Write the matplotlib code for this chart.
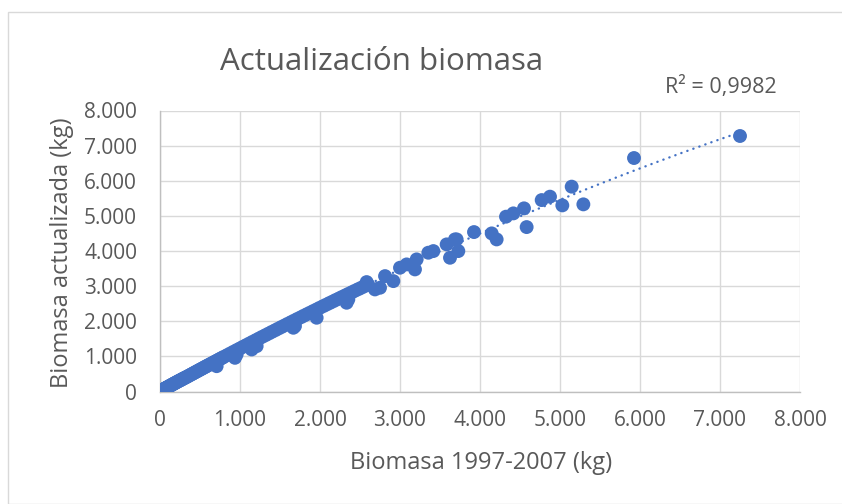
import numpy as np
import matplotlib
matplotlib.use("Agg")
import matplotlib.pyplot as plt
from matplotlib.ticker import FuncFormatter, MultipleLocator
from matplotlib.patches import Rectangle

title = "Actualización biomasa"
xlabel = "Biomasa 1997-2007 (kg)"
ylabel = "Biomasa actualizada (kg)"
r2_label = "R² = 0,9982"

# dense band of points near the origin
band_x = [5, 15, 25, 40, 55, 70, 85, 100, 120, 140, 160, 180, 200, 225, 250, 275, 300,
          330, 360, 390, 420, 450, 480, 510, 540, 570, 600, 640, 680, 720, 760, 800,
          840, 880, 920, 960, 1000, 1040, 1080, 1120, 1160, 1200, 1240, 1280, 1320,
          1360, 1400, 1440, 1480, 1520, 1560, 1600, 1640, 1680, 1720, 1760, 1800,
          1840, 1880, 1920, 1960, 2000, 2040, 2080, 2120, 2160, 2200, 2240, 2280,
          2320, 2360, 2400, 2440, 2480, 2520, 2560, 2600]
band_y = [10, 22, 35, 55, 75, 95, 113, 132, 158, 184, 208, 233, 258, 290, 320, 350, 380,
          413, 450, 487, 524, 561, 598, 635, 671, 708, 745, 794, 842, 891, 939, 988,
          1036, 1084, 1132, 1180, 1227, 1275, 1322, 1370, 1417, 1464, 1512, 1559, 1605,
          1652, 1699, 1745, 1792, 1838, 1884, 1930, 1976, 2022, 2068, 2113, 2159,
          2204, 2249, 2294, 2340, 2385, 2430, 2474, 2519, 2563, 2608, 2652, 2696,
          2740, 2784, 2828, 2872, 2915, 2958, 3002, 3045]

# extra points in the densest low range
low_x = [10, 30, 50, 65, 80, 95, 110, 130, 150, 170, 190, 215, 240, 265, 290, 315,
         345, 375, 405, 435, 465, 495, 525, 555, 585, 620, 660, 700, 740, 780]
low_y = [14, 40, 66, 86, 104, 122, 142, 166, 192, 217, 242, 272, 302, 330, 362, 392,
         428, 466, 502, 540, 576, 614, 650, 688, 724, 768, 816, 866, 914, 962]

# scattered points below the band and sparse upper range
sparse_x = [708, 937, 958, 1146, 1208, 1667, 1687, 1958, 2333, 2354, 2583, 2687,
            2750, 2813, 2917, 3000, 3083, 3187, 3208, 3354, 3417, 3583, 3625, 3687,
            3708, 3729, 3925, 4146, 4208, 4325, 4417, 4550, 4583, 4771, 4875, 5029,
            5146, 5292, 5925, 7250]
sparse_y = [721, 959, 1054, 1197, 1291, 1815, 1861, 2100, 2527, 2621, 3115, 2906,
            2954, 3285, 3143, 3524, 3618, 3476, 3761, 3951, 3998, 4188, 3808, 4330,
            4330, 3998, 4539, 4501, 4330, 4977, 5071, 5214, 4681, 5450, 5547, 5299,
            5832, 5328, 6647, 7274]

# each point drawn in the overplotted band stands for many overlapping samples
band_multiplicity = 25

x = np.array(band_x + low_x + sparse_x, dtype=float)
y = np.array(band_y + low_y + sparse_y, dtype=float)
n_dense = len(band_x) + len(low_x)
w = np.ones_like(x)
w[:n_dense] = np.sqrt(band_multiplicity)

plt.rcParams['font.family'] = ['Open Sans', 'DejaVu Sans']
text_color = '#595959'
blue = '#4472C4'

fig = plt.figure(figsize=(8.42, 5.04), dpi=100)
fig.patches.append(Rectangle((8/842, 0), 1, 1 - 12/504, transform=fig.transFigure,
                             fill=False, edgecolor='#d9d9d9', linewidth=1.0))
ax = fig.add_axes([160/842, 1 - 391.5/504, 640/842, 281/504])

ax.scatter(x, y, s=100, color=blue, edgecolors='none', zorder=3)

coef = np.polyfit(x, y, 2, w=w)
xt = np.linspace(0, x.max(), 400)
ax.plot(xt, np.polyval(coef, xt), color=blue, linewidth=1.7,
        linestyle=(0, (0.1, 2.6)), dash_capstyle='round', zorder=2)

ax.set_xlim(0, 8000)
ax.set_ylim(0, 8000)
ax.xaxis.set_major_locator(MultipleLocator(1000))
ax.yaxis.set_major_locator(MultipleLocator(1000))
fmt = FuncFormatter(lambda v, p: f"{int(v):,}".replace(",", "."))
ax.xaxis.set_major_formatter(fmt)
ax.yaxis.set_major_formatter(fmt)
ax.grid(True, color='#d9d9d9', linewidth=1.0, zorder=0)
ax.set_axisbelow(True)
for s in ['top', 'right']:
    ax.spines[s].set_visible(False)
for s in ['left', 'bottom']:
    ax.spines[s].set_color('#bfbfbf')
    ax.spines[s].set_linewidth(1.0)
ax.tick_params(length=0, labelsize=15, colors=text_color)
ax.tick_params(axis='x', pad=13)
ax.tick_params(axis='y', pad=16.5)
ax.set_xlabel(xlabel, fontsize=17, color=text_color, va='center')
ax.set_ylabel(ylabel, fontsize=17, color=text_color, va='center')
ax.xaxis.set_label_coords(0.502, (391.5 - 463) / 281)
ax.yaxis.set_label_coords((62 - 160) / 640, 0.495)

fig.text(381.5/842, 1 - 70/504, title, fontsize=22.5, color=text_color,
         ha='center', va='baseline')
fig.text(777/842, 1 - 93/504, r2_label, fontsize=15.5, color=text_color,
         ha='right', va='baseline')

fig.savefig("out.png", dpi=100)
